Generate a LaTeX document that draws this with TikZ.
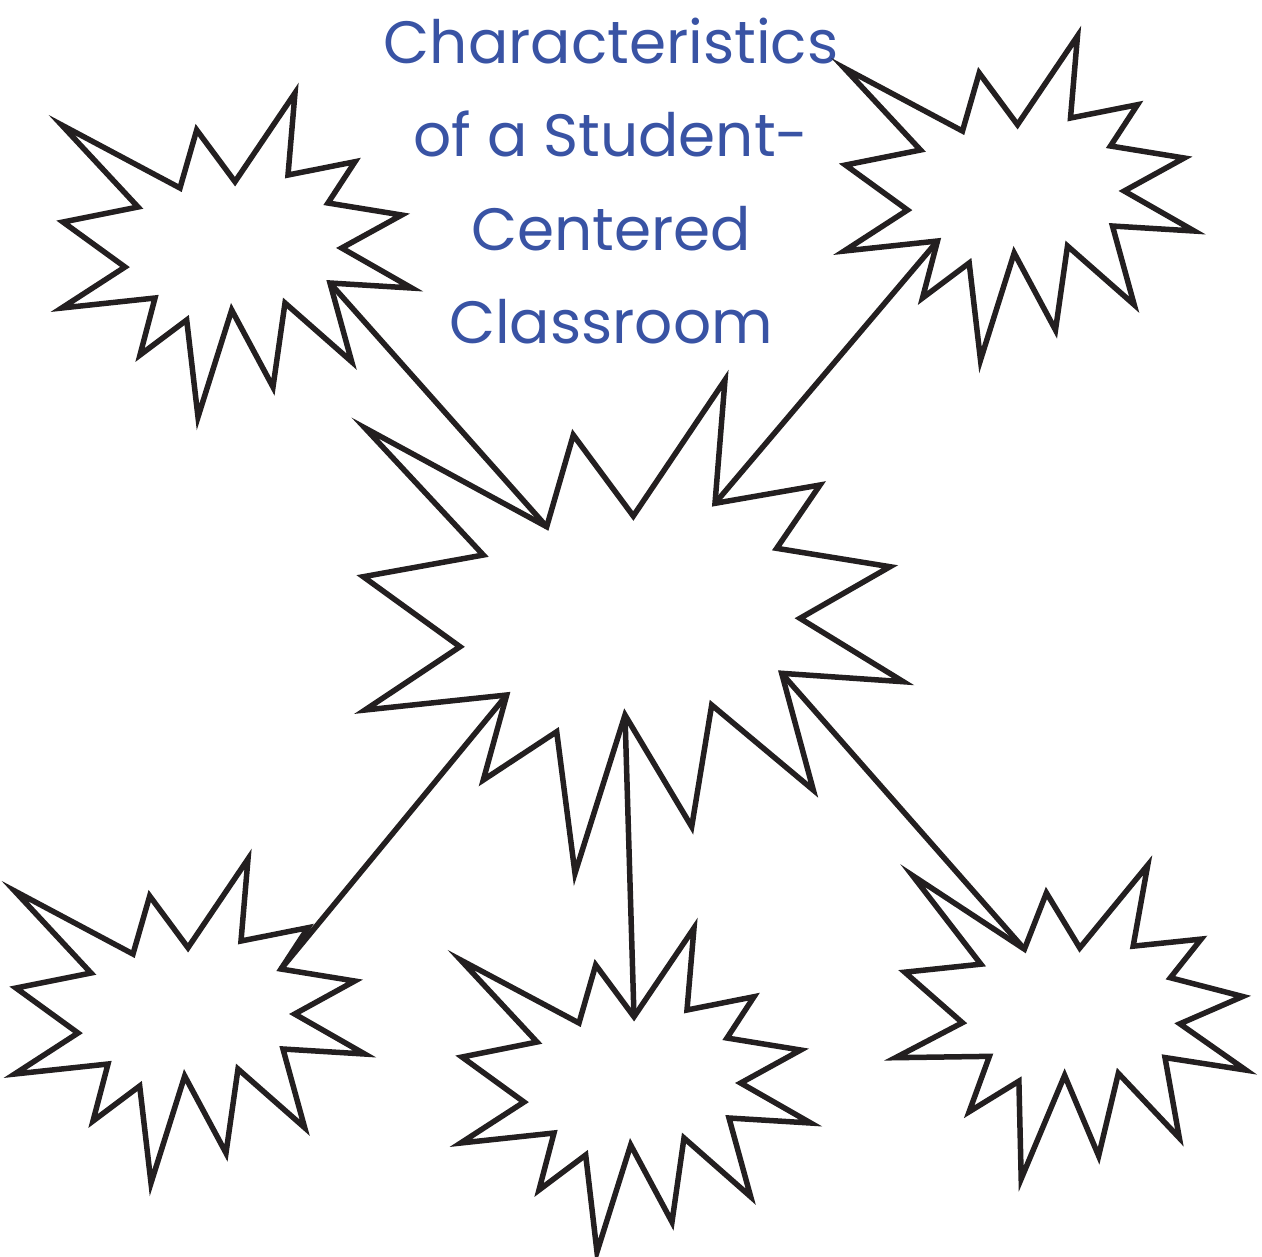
\documentclass[tikz,border=0pt]{standalone}
\usepackage{fontspec}
\newfontfamily\handfont{Poppins}
\usetikzlibrary{calc}
\definecolor{BurstInk}{HTML}{231F20}
\definecolor{TitleBlue}{HTML}{3953A4}

% corners of the small bursts, relative to their centre (px, y down)
\newcommand{\smallpts}{{-174.3,-130},{-56,-67},{-39.3,-125},{-1,-73.3},
  {59,-162},{52,-80},{119,-93.3},{92,-52},{165.7,-40},{105.7,-7},
  {175.7,33},{94,28},{115.7,106.7},{49,48},{37,132},{-4.3,55},
  {-38,162},{-49.3,65},{-96,100},{-81,43},{-174.3,53},{-111,12},
  {-173,-33},{-98,-48}}
% corners of the big burst in the middle
\newcommand{\hubpts}{{365,428},{546.7,526.7},{573.3,435},{633.3,516},
  {725,380},{715,503.3},{820,485},{776.7,548.3},{890,566.7},{800,618.3},
  {903.3,681.7},{781.7,673.3},{813.3,790},{711.7,705},{691.7,826.7},
  {625,715},{575,873.3},{556.7,731.7},{483.3,780},{506.7,695},
  {365,710},{460,646.7},{363.3,576.7},{483.3,555}}

\newcommand{\burst}[3][]{%
  \begin{scope}[#1]
    \foreach \p [count=\i] in #3 {\coordinate (#2-\i) at (\p);}
  \end{scope}
  \draw[burst] (#2-1) \foreach \i in {2,...,24} {-- (#2-\i)} -- cycle;
}

\begin{document}
\begin{tikzpicture}[
  x=0.1mm, y=-0.1mm,
  burst/.style={draw=BurstInk, line width=0.55mm, line join=miter},
  link/.style={draw=BurstInk, line width=0.55mm, line cap=butt},
  title/.style={font=\handfont\fontsize{17}{26.6}\selectfont,
                text=TitleBlue, align=center, inner sep=0pt}
]
\useasboundingbox (0,0) rectangle (1262,1256);

\node[title] (title) at (611,181)
  {Characteristics\\of a Student-\\Centered\\Classroom};

\burst{hub}{\hubpts}
\burst[shift={(236,255)}]{tl}{\smallpts}
\burst[shift={(1018.5,198)}]{tr}{\smallpts}
\burst[shift={(189,1021)}]{bl}{\smallpts}
\burst[shift={(635,1090)}]{bm}{\smallpts}
\burst[shift={(1074,1021)}, rotate=-5.3]{br}{\smallpts}

\draw[link] (tl-12) -- (hub-2);
\draw[link] (tr-20) -- (hub-6);
\draw[link] (hub-20) -- (bl-8);
\draw[link] (hub-16) -- (bm-4);
\draw[link] (hub-12) -- (br-2);

\end{tikzpicture}
\end{document}
